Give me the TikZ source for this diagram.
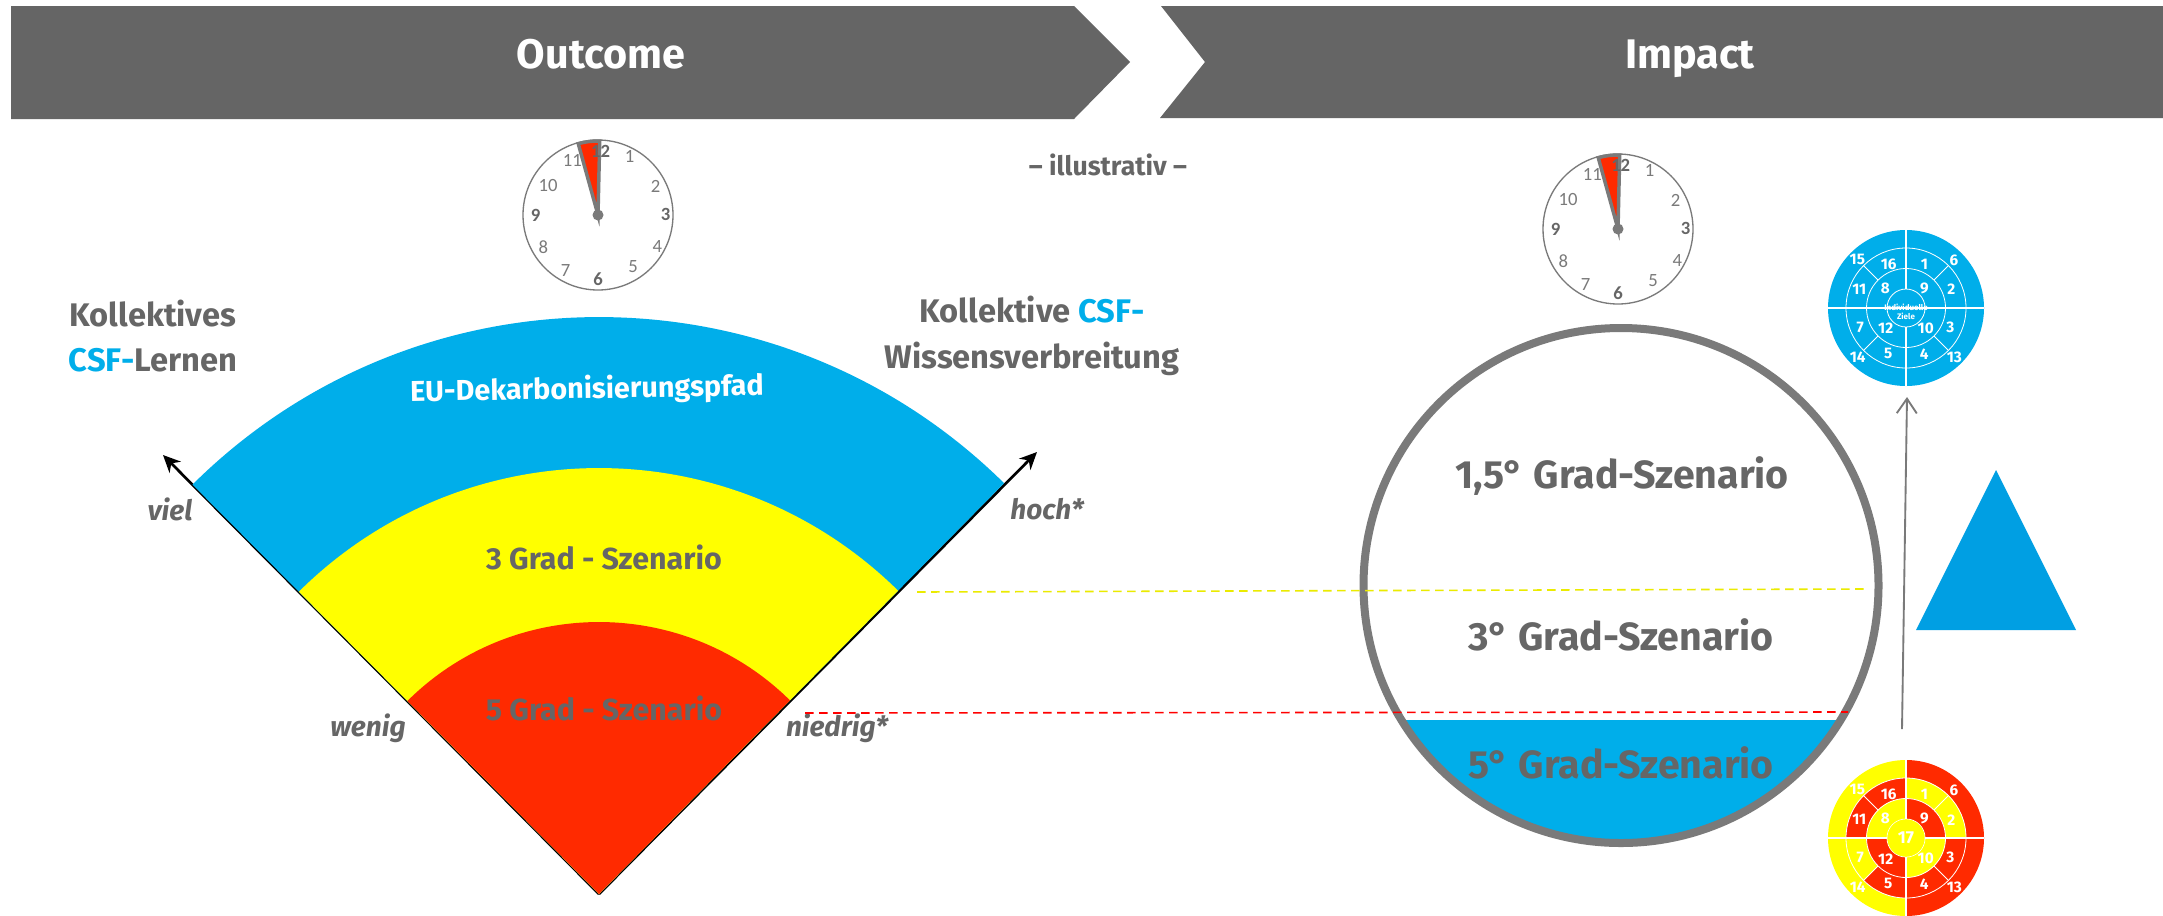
\documentclass[tikz,border=0pt]{standalone}
\usepackage{fontspec}
\setmainfont{Fira Sans}
\newfontfamily\clockfont{Carlito}
\usetikzlibrary{arrows.meta}
\definecolor{bargrey}{HTML}{656565}
\definecolor{txtgrey}{HTML}{666666}
\definecolor{ringgrey}{HTML}{7A7A7A}
\definecolor{csfblue}{HTML}{00AEEA}
\definecolor{tblue}{HTML}{009FE3}
\definecolor{syellow}{HTML}{FFFF00}
\definecolor{sred}{HTML}{FF2A00}
\tikzset{
  headtxt/.style={font=\fontsize{31}{36}\selectfont\bfseries,text=white,inner sep=0pt,anchor=base},
  lab/.style={font=\fontsize{24.5}{34}\selectfont\bfseries,text=txtgrey,inner sep=0pt,align=center},
  fantxt/.style={font=\fontsize{22.8}{26}\selectfont\bfseries,text=txtgrey,inner sep=0pt},
  axis/.style={font=\fontsize{21}{26}\selectfont\bfseries\itshape,text=txtgrey,inner sep=0pt},
  circtxt/.style={font=\fontsize{29.5}{34}\selectfont\bfseries,text=txtgrey,inner sep=0pt},
  clocknum/.style={font=\clockfont\fontsize{14}{16}\selectfont,text=ringgrey,inner sep=0pt},
  clockbold/.style={font=\clockfont\fontsize{14}{16}\selectfont\bfseries,text=txtgrey,inner sep=0pt},
  tnum/.style={font=\fontsize{11.5}{12}\selectfont\bfseries,text=white,inner sep=0pt},
  fanarrow/.style={draw=black,line width=2pt,-{Stealth[length=13pt,width=12pt]}},
  whiteline/.style={draw=white,line width=0.8pt},
  ringline/.style={draw=white,line width=0.6pt},
  dashline/.style={line width=1.2pt,dash pattern=on 6.5pt off 4pt},
}
\newcommand{\clockface}[2]{%
  \begin{scope}[shift={(#1,-#2)}]
    \draw[ringgrey,line width=1pt] (0,0) circle[radius=75];
    \path[fill=sred,draw=ringgrey,line width=2.6pt,line join=miter] (0,0) -- (1.7,74) arc[start angle=88.7,end angle=105.5,radius=74] -- cycle;
    \fill[ringgrey] (0,0) circle[radius=5.5];
    \foreach \n/\dx/\dy in {1/31.7/58.3,2/57.7/28.3,4/59.3/-31.7,5/35/-51.7,7/-32.3/-55.7,8/-54.7/-31.7,10/-50/30,11/-25.7/54.3}
      \node[clocknum] (c#1n\n) at (\dx,\dy) {\n};
    \foreach \n/\dx/\dy in {12/2.7/64,3/67.7/1,6/0/-64.3,9/-62.3/0}
      \node[clockbold] (c#1n\n) at (\dx,\dy) {\n};
  \end{scope}}
\newcommand{\targetrings}{%
  \foreach \r in {60,39.5,19} \draw[ringline] (0,0) circle[radius=\r];
  \foreach \a in {45,135,225,315} \draw[ringline] (\a:39.5) -- (\a:60);
  \draw[whiteline] (-78,0) -- (78,0);
  \draw[whiteline] (0,78) -- (0,19);
  \draw[whiteline] (0,-19) -- (0,-78);
}
\newcommand{\targetnums}[1]{%
  \foreach \n/\dx/\dy in {15/-48.7/49,16/-17.3/44,1/18.3/44,6/48/47.7,11/-46.7/18.3,8/-20.7/19.3,9/18.3/19.3,2/45.3/18.3,7/-45.7/-19,12/-20.3/-20.7,10/19.7/-20.7,3/44.3/-19,14/-48.3/-49.3,5/-17.7/-45.7,4/18.3/-45.7,13/48.3/-49.3}
    \node[tnum] (#1\n) at (\dx,\dy) {\n};
}
\newcommand{\segm}[5]{% r1 r2 a1 a2 colour
  \fill[#5] (#3:#2) arc[start angle=#3,end angle=#4,radius=#2] -- (#4:#1) arc[start angle=#4,end angle=#3,radius=#1] -- cycle;}
\begin{document}
\begin{tikzpicture}[x=0.75pt,y=0.75pt]
\useasboundingbox (0,0) rectangle (2163,-915);
\fill[white] (0,0) rectangle (2163,-915);
% header
\fill[bargrey] (11,-6) -- (1074,-6) -- (1130,-62) -- (1074,-119) -- (11,-119) -- cycle;
\fill[bargrey] (1161,-6) -- (2163,-6) -- (2163,-118) -- (1160,-118) -- (1205,-62) -- cycle;
\node[headtxt] (outcome) at (601,-68) {Outcome};
\node[headtxt] (impact) at (1690,-68) {Impact};
\node[font=\fontsize{20}{24}\selectfont\bfseries,text=txtgrey,inner sep=0pt] (illu) at (1108,-165) {– illustrativ –};
% clocks
\clockface{598}{215}
\clockface{1618}{229}
% fan
\coordinate (apex) at (599,-894);
\coordinate (arrL) at (163,-455);
\coordinate (arrR) at (1037,-452);
\draw[fanarrow] (apex) -- (arrL);
\draw[fanarrow] (apex) -- (arrR);
\fill[csfblue] (apex) ++(45.4:577) arc[start angle=45.4,end angle=134.8,radius=577] -- (apex) -- cycle;
\fill[syellow] (apex) ++(45.4:426) arc[start angle=45.4,end angle=134.8,radius=426] -- (apex) -- cycle;
\fill[sred] (apex) ++(45.4:272) arc[start angle=45.4,end angle=134.8,radius=272] -- (apex) -- cycle;
\node[lab] (lernen) at (153,-336) {Kollektives\\\textcolor{csfblue}{CSF-}Lernen};
\node[lab] (wissen) at (1032,-336) {Kollektive \textcolor{csfblue}{CSF-}\\Wissensverbreitung};
\node[fantxt,text=white,rotate=1,font=\fontsize{21.6}{26}\selectfont\bfseries] (eu) at (587,-390) {EU-Dekarbonisierungspfad};
\node[fantxt] (g3) at (604,-557) {3 Grad - Szenario};
\node[fantxt] (g5) at (604,-708) {5 Grad - Szenario};
\node[axis] (viel) at (170,-509) {viel};
\node[axis] (hoch) at (1047,-509) {hoch*};
\node[axis] (wenig) at (368,-728) {wenig};
\node[axis] (niedrig) at (837,-728) {niedrig*};
% big circle
\begin{scope}
  \clip (1621,-585.5) circle[radius=258];
  \fill[csfblue] (1300,-720) rectangle (1950,-860);
\end{scope}
\node[draw=ringgrey,line width=6pt,circle,minimum size=257.5*2*0.75pt,inner sep=0pt] (ball) at (1621,-585.5) {};
\node[circtxt] (s15) at (1622,-476) {1,5° Grad-Szenario};
\node[circtxt] (s3) at (1621,-635) {3° Grad-Szenario};
\node[circtxt] (s5) at (1621,-763) {5° Grad-Szenario};
% dashed
\coordinate (yA) at (917,-592);
\coordinate (yB) at (1865,-589);
\coordinate (rA) at (805,-713);
\coordinate (rB) at (1848,-712);
\draw[syellow!92!black,dashline] (yA) -- (yB);
\draw[red,dashline] (rA) -- (rB);
% triangle
\fill[tblue] (1996,-470) -- (2076,-630) -- (1916,-630) -- cycle;
% upper target
\begin{scope}[shift={(1906,-308)}]
  \fill[csfblue] (0,0) circle[radius=78];
  \targetrings
  \targetnums{a}
  \node[font=\fontsize{6}{7}\selectfont\bfseries,text=white,inner sep=0pt,align=center] (indiv) at (0,-4) {Individuelle\\Ziele};
\end{scope}
% lower target
\begin{scope}[shift={(1906,-838)}]
  \segm{60}{78}{90}{270}{syellow}
  \segm{60}{78}{-90}{90}{sred}
  \segm{39.5}{60}{45}{90}{syellow}
  \segm{39.5}{60}{0}{45}{syellow}
  \segm{39.5}{60}{-45}{0}{sred}
  \segm{39.5}{60}{-90}{-45}{sred}
  \segm{39.5}{60}{225}{270}{sred}
  \segm{39.5}{60}{180}{225}{syellow}
  \segm{39.5}{60}{135}{180}{sred}
  \segm{39.5}{60}{90}{135}{sred}
  \segm{19}{39.5}{0}{90}{sred}
  \segm{19}{39.5}{90}{180}{syellow}
  \segm{19}{39.5}{180}{270}{sred}
  \segm{19}{39.5}{270}{360}{syellow}
  \fill[syellow] (0,0) circle[radius=19];
  \targetrings
  \fill[syellow] (0,0) circle[radius=18.6];
  \targetnums{b}
  \node[font=\fontsize{13}{15}\selectfont\bfseries,text=white,inner sep=0pt] (b17) at (0,0) {17};
\end{scope}
% grey arrow
\coordinate (gA) at (1902,-729);
\coordinate (gB) at (1907,-397);
\draw[ringgrey,line width=1.4pt,-{Straight Barb[length=11pt,width=15pt]}] (gA) -- (gB);
\end{tikzpicture}
\end{document}
